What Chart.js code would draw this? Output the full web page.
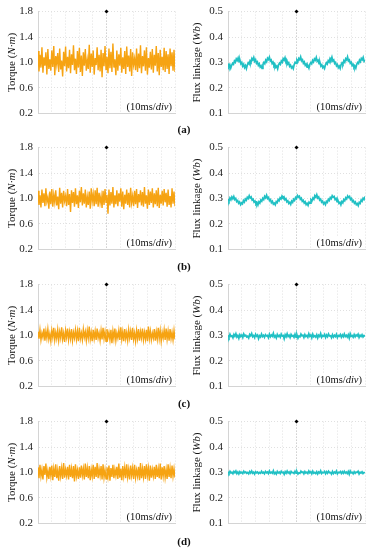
<!DOCTYPE html>
<html>
<head>
<meta charset="utf-8">
<script src="https://cdn.jsdelivr.net/npm/chart.js@4"></script>
<style>
  html, body { margin: 0; padding: 0; background: #fff; }
  body { width: 372px; height: 550px; position: relative; overflow: hidden; }
  canvas { position: absolute; }
  .lbl { position: absolute; width: 40px; text-align: center; font: bold 11px "Liberation Serif", serif; color: #111; }
</style>
</head>
<body>
<canvas id="tA" width="180" height="125" style="left:0px;top:0px"></canvas>
<canvas id="fA" width="187" height="125" style="left:185px;top:0px"></canvas>
<div class="lbl" style="left:164px;top:123px">(a)</div>
<canvas id="tB" width="180" height="125" style="left:0px;top:136px"></canvas>
<canvas id="fB" width="187" height="125" style="left:185px;top:136px"></canvas>
<div class="lbl" style="left:164px;top:260px">(b)</div>
<canvas id="tC" width="180" height="125" style="left:0px;top:273px"></canvas>
<canvas id="fC" width="187" height="125" style="left:185px;top:273px"></canvas>
<div class="lbl" style="left:164px;top:397px">(c)</div>
<canvas id="tD" width="180" height="125" style="left:0px;top:410px"></canvas>
<canvas id="fD" width="187" height="125" style="left:185px;top:410px"></canvas>
<div class="lbl" style="left:164px;top:535px">(d)</div>
<script>
// ---- data (time span: 10 divisions x 10 ms) ----
const panelLabels = ['(a)', '(b)', '(c)', '(d)'];
const timeSpanMs = 100;
const torqueTicks = ['0.2', '0.6', '1.0', '1.4', '1.8'];
const fluxTicks = ['0.1', '0.2', '0.3', '0.4', '0.5'];

const torqueA = [1.18,0.86,1.12,0.92,1.24,0.84,1.08,0.95,1.16,0.81,1.21,0.90,1.05,0.87,1.19,0.93,1.26,0.80,1.10,0.97,
1.15,0.85,1.22,0.89,1.03,0.78,1.17,0.94,1.25,0.86,1.09,0.91,1.20,0.83,1.13,0.96,1.27,0.88,1.06,0.82,
1.18,0.92,1.23,0.85,1.11,0.79,1.16,0.95,1.21,0.87,1.04,0.90,1.28,0.84,1.14,0.93,1.19,0.81,1.07,0.96,
1.24,0.88,1.12,0.86,1.20,0.77,1.15,0.94,1.26,0.89,1.09,0.83,1.22,0.91,1.17,0.85,1.30,0.92,1.05,0.80,
1.19,0.87,1.13,0.95,1.23,0.84,1.08,0.90,1.18,0.82,1.25,0.93,1.11,0.86,1.21,0.79,1.16,0.96,1.06,0.88,
1.22,0.85,1.14,0.91,1.27,0.83,1.10,0.94,1.19,0.87,1.24,0.81,1.07,0.92,1.17,0.89,1.21,0.84,1.12,0.95,
1.26,0.86,1.15,0.80,1.20,0.93,1.09,0.88,1.23,0.85,1.18,0.90,1.13,0.82,1.22,0.94,1.16,0.87,1.20,0.85];

const torqueB = [1.12,0.90,1.05,0.86,1.14,0.93,1.08,0.88,1.16,0.95,1.02,0.84,1.11,0.91,1.15,0.87,1.06,0.94,1.13,0.89,
1.03,0.83,1.17,0.92,1.09,0.86,1.12,0.96,1.04,0.88,1.15,0.90,1.07,0.79,1.13,0.93,1.10,0.87,1.16,0.91,
1.05,0.85,1.12,0.94,1.18,0.89,1.08,0.92,1.14,0.86,1.03,0.90,1.11,0.84,1.16,0.95,1.07,0.88,1.13,0.91,
1.17,0.87,1.09,0.93,1.04,0.85,1.12,0.90,1.15,0.94,1.06,0.76,1.14,0.89,1.10,0.92,1.18,0.86,1.05,0.91,
1.13,0.88,1.08,0.95,1.16,0.87,1.11,0.83,1.06,0.92,1.14,0.90,1.09,0.86,1.17,0.93,1.04,0.88,1.12,0.91,
1.15,0.85,1.07,0.94,1.13,0.89,1.10,0.87,1.18,0.92,1.05,0.84,1.14,0.90,1.11,0.93,1.16,0.86,1.08,0.91,
1.13,0.88,1.17,0.85,1.06,0.92,1.12,0.89,1.15,0.94,1.09,0.87,1.14,0.90,1.04,0.86,1.16,0.92,1.11,0.88];

const torqueC = [1.06,0.95,1.09,0.93,1.04,0.97,1.11,0.92,1.07,0.96,1.10,0.94,1.03,0.91,1.08,0.97,1.12,0.93,1.05,0.95,
1.09,0.92,1.06,0.96,1.13,0.94,1.04,0.90,1.08,0.97,1.11,0.93,1.06,0.95,1.10,0.92,1.05,0.96,1.09,0.94,
1.07,0.91,1.12,0.95,1.04,0.93,1.10,0.97,1.06,0.92,1.08,0.96,1.14,0.94,1.05,0.91,1.09,0.95,1.07,0.93,
1.11,0.96,1.04,0.92,1.08,0.94,1.12,0.95,1.06,0.91,1.10,0.97,1.05,0.93,1.09,0.88,1.07,0.95,1.11,0.92,
1.04,0.96,1.08,0.93,1.13,0.94,1.06,0.91,1.10,0.95,1.05,0.92,1.09,0.96,1.07,0.93,1.12,0.94,1.04,0.91,
1.08,0.95,1.10,0.92,1.06,0.96,1.11,0.93,1.05,0.94,1.09,0.91,1.14,0.95,1.07,0.93,1.04,0.96,1.10,0.92,
1.06,0.94,1.12,0.95,1.08,0.91,1.05,0.96,1.09,0.93,1.11,0.94,1.07,0.92,1.10,0.95,1.05,0.93,1.08,0.94];

const torqueD = [1.08,0.91,1.12,0.94,1.05,0.89,1.10,0.96,1.14,0.92,1.03,0.90,1.09,0.95,1.11,0.88,1.06,0.93,1.13,0.91,
1.04,0.87,1.10,0.94,1.07,0.90,1.15,0.92,1.05,0.95,1.09,0.89,1.12,0.93,1.06,0.91,1.10,0.86,1.13,0.94,
1.04,0.90,1.08,0.92,1.11,0.95,1.06,0.89,1.14,0.93,1.07,0.91,1.10,0.88,1.05,0.94,1.12,0.90,1.09,0.93,
1.15,0.91,1.06,0.95,1.10,0.89,1.13,0.92,1.04,0.90,1.08,0.94,1.11,0.87,1.07,0.93,1.12,0.91,1.05,0.95,
1.09,0.90,1.14,0.92,1.06,0.88,1.10,0.94,1.08,0.91,1.13,0.93,1.05,0.89,1.11,0.95,1.07,0.90,1.12,0.92,
1.04,0.94,1.09,0.88,1.15,0.91,1.06,0.93,1.10,0.90,1.13,0.95,1.07,0.87,1.11,0.92,1.05,0.94,1.09,0.90,
1.12,0.93,1.06,0.91,1.14,0.89,1.08,0.94,1.10,0.92,1.05,0.90,1.13,0.93,1.07,0.91,1.11,0.94,1.06,0.92];

const fluxA = [0.296,0.284,0.291,0.278,0.289,0.297,0.293,0.306,0.301,0.314,0.308,
0.318,0.303,0.309,0.295,0.300,0.286,0.293,0.280,0.288,0.276,0.290,
0.299,0.294,0.307,0.302,0.316,0.310,0.320,0.305,0.311,0.297,0.302,
0.289,0.295,0.282,0.287,0.277,0.292,0.300,0.295,0.309,0.303,0.317,
0.312,0.321,0.306,0.310,0.296,0.301,0.288,0.293,0.281,0.286,0.275,
0.291,0.298,0.293,0.306,0.301,0.315,0.309,0.319,0.304,0.308,0.294,
0.299,0.285,0.290,0.279,0.284,0.276,0.292,0.301,0.296,0.310,0.304,
0.316,0.311,0.322,0.307,0.311,0.297,0.302,0.289,0.294,0.282,0.287,
0.278,0.293,0.300,0.295,0.308,0.302,0.314,0.309,0.320,0.305,0.309,
0.295,0.300,0.286,0.291,0.280,0.285,0.277,0.291,0.299,0.294,0.307,
0.302,0.316,0.310,0.321,0.306,0.310,0.296,0.300,0.287,0.292,0.280,
0.286,0.277,0.292,0.299,0.294,0.307,0.301,0.315,0.310,0.322,0.306,
0.310,0.297,0.301,0.288,0.293,0.281,0.286,0.278,0.293,0.300,0.296,
0.309,0.303,0.316,0.311,0.320,0.305,0.310];

const fluxB = [0.298,0.290,0.302,0.295,0.306,0.299,0.308,0.296,0.300,0.288,0.292,0.281,0.286,
0.276,0.283,0.279,0.292,0.286,0.298,0.293,0.305,0.300,0.311,0.302,0.306,0.294,
0.297,0.286,0.290,0.279,0.284,0.274,0.287,0.282,0.294,0.289,0.301,0.296,0.309,
0.303,0.313,0.300,0.304,0.292,0.296,0.284,0.289,0.278,0.282,0.275,0.288,0.284,
0.296,0.291,0.303,0.298,0.310,0.304,0.307,0.295,0.299,0.287,0.291,0.280,0.285,
0.277,0.290,0.285,0.297,0.292,0.304,0.299,0.312,0.306,0.309,0.297,0.301,0.289,
0.293,0.282,0.287,0.276,0.281,0.273,0.286,0.282,0.295,0.290,0.302,0.297,0.311,
0.305,0.315,0.302,0.306,0.294,0.298,0.286,0.290,0.279,0.284,0.276,0.289,0.285,
0.297,0.292,0.304,0.299,0.311,0.305,0.308,0.296,0.300,0.288,0.292,0.281,0.285,
0.275,0.288,0.283,0.296,0.291,0.303,0.298,0.310,0.304,0.308,0.296,0.300,0.288,
0.292,0.281,0.286,0.276,0.280,0.272,0.285,0.281,0.294,0.289,0.301,0.296,0.308];

const fluxC = [0.301,0.293,0.305,0.296,0.299,0.291,0.304,0.297,0.307,0.294,0.300,0.289,0.303,0.296,0.302,0.292,0.306,0.298,0.301,0.294,
0.297,0.290,0.304,0.299,0.308,0.295,0.300,0.292,0.305,0.297,0.302,0.288,0.299,0.294,0.306,0.296,0.301,0.293,0.303,0.298,
0.300,0.291,0.305,0.295,0.302,0.297,0.309,0.294,0.299,0.290,0.304,0.296,0.301,0.293,0.306,0.298,0.300,0.287,0.303,0.295,
0.307,0.296,0.301,0.292,0.304,0.297,0.300,0.293,0.305,0.294,0.302,0.289,0.298,0.295,0.306,0.299,0.301,0.292,0.304,0.296,
0.300,0.293,0.307,0.297,0.302,0.291,0.305,0.295,0.299,0.294,0.303,0.290,0.301,0.296,0.308,0.293,0.300,0.297,0.304,0.292,
0.302,0.295,0.306,0.298,0.299,0.291,0.303,0.294,0.301,0.296,0.305,0.292,0.300,0.297,0.304,0.293,0.302,0.295,0.306,0.296,
0.301,0.294,0.303,0.290,0.307,0.297,0.300,0.293,0.304,0.295,0.302,0.298,0.305,0.292,0.301,0.296,0.303,0.294,0.300,0.297];

const fluxD = [0.303,0.297,0.305,0.298,0.301,0.295,0.304,0.299,0.306,0.296,0.302,0.294,0.303,0.298,0.301,0.296,0.305,0.299,0.302,0.297,
0.300,0.295,0.304,0.298,0.306,0.297,0.301,0.294,0.303,0.299,0.302,0.296,0.300,0.297,0.305,0.298,0.301,0.295,0.304,0.299,
0.302,0.296,0.306,0.298,0.301,0.297,0.307,0.295,0.300,0.294,0.304,0.298,0.302,0.296,0.305,0.299,0.301,0.293,0.303,0.297,
0.306,0.298,0.302,0.295,0.304,0.299,0.300,0.296,0.305,0.297,0.303,0.294,0.299,0.297,0.305,0.300,0.302,0.295,0.304,0.298,
0.301,0.296,0.306,0.299,0.303,0.295,0.305,0.297,0.300,0.296,0.303,0.294,0.302,0.298,0.307,0.296,0.301,0.299,0.304,0.295,
0.303,0.297,0.305,0.299,0.300,0.294,0.304,0.296,0.302,0.298,0.306,0.295,0.301,0.299,0.304,0.296,0.303,0.297,0.305,0.298,
0.302,0.296,0.304,0.293,0.306,0.299,0.301,0.295,0.303,0.297,0.302,0.300,0.305,0.294,0.301,0.298,0.303,0.296,0.300,0.299];

// ---- rendering ----
const SERIF = '"Liberation Serif", "Times New Roman", serif';

function measureParts(ctx, parts, size) {
  let total = 0;
  const widths = parts.map(p => {
    ctx.font = (p[1] ? 'italic ' : '') + size + 'px ' + SERIF;
    const w = ctx.measureText(p[0]).width; total += w; return w;
  });
  return { total, widths };
}

const annotPlugin = {
  id: 'annot',
  afterDraw(chart, args, opts) {
    const ctx = chart.ctx, a = chart.chartArea;
    ctx.save();
    ctx.fillStyle = '#111';
    ctx.textBaseline = 'middle';
    const t = measureParts(ctx, opts.title, 11);
    ctx.translate(opts.titleX, (a.top + a.bottom) / 2);
    ctx.rotate(-Math.PI / 2);
    let x = -t.total / 2;
    opts.title.forEach((p, i) => {
      ctx.font = (p[1] ? 'italic ' : '') + '11px ' + SERIF;
      ctx.fillText(p[0], x, 0);
      x += t.widths[i];
    });
    ctx.restore();
    ctx.save();
    ctx.textBaseline = 'alphabetic';
    const d = measureParts(ctx, opts.note, 10.5);
    const right = a.right - 3, base = a.bottom - 3;
    ctx.fillStyle = '#fff';
    ctx.fillRect(right - d.total - 2, base - 10, d.total + 3, 12);
    ctx.fillStyle = '#111';
    x = right - d.total;
    opts.note.forEach((p, i) => {
      ctx.font = (p[1] ? 'italic ' : '') + '10.5px ' + SERIF;
      ctx.fillText(p[0], x, base);
      x += d.widths[i];
    });
    ctx.restore();
  }
};

function makePanel(id, values, cfg) {
  const n = values.length;
  const pts = values.map((v, i) => ({ x: i * timeSpanMs / (n - 1), y: v }));
  new Chart(document.getElementById(id), {
    type: 'line',
    data: {
      datasets: [
        { data: pts, borderColor: cfg.color, borderWidth: cfg.lw, pointRadius: 0, tension: 0, fill: false },
        { type: 'scatter', data: [{ x: timeSpanMs / 2, y: cfg.max }], pointStyle: 'rectRot', pointRadius: 2,
          backgroundColor: '#000', borderColor: '#000', borderWidth: 0, clip: false }
      ]
    },
    options: {
      responsive: false, animation: false, devicePixelRatio: 1,
      layout: { padding: { top: 10, bottom: 8, left: 0, right: cfg.padRight } },
      plugins: {
        legend: { display: false }, tooltip: { enabled: false },
        annot: { title: cfg.title, titleX: 11.7, note: [['(10ms/', false], ['div', true], [')', false]] }
      },
      scales: {
        x: {
          type: 'linear', min: 0, max: timeSpanMs,
          ticks: { display: false, stepSize: timeSpanMs / 10 },
          grid: { drawTicks: false, lineWidth: 1,
                  color: c => (c.tick && c.tick.value === timeSpanMs / 2) ? '#b4b4b4' : '#e0e0e0' },
          border: { color: '#d4d4d4', dash: [1, 2] },
          afterFit: s => { s.height = 0; }
        },
        y: {
          min: cfg.min, max: cfg.max,
          ticks: { stepSize: cfg.step, padding: 5, color: '#222',
                   font: { family: SERIF, size: 11 },
                   callback: (v, i) => (i % 2 === 0 ? cfg.ticks[i / 2] : '') },
          grid: { drawTicks: false, color: '#e0e0e0' },
          border: { color: '#d4d4d4', dash: [1, 2] },
          afterFit: s => { s.width = cfg.axisW; }
        }
      }
    },
    plugins: [annotPlugin]
  });
}

const torqueCfg = { color: 'rgb(246,163,18)', lw: 1.4, min: 0.2, max: 1.8, step: 0.2, ticks: torqueTicks,
  title: [['Torque (', false], ['N·m', true], [')', false]], axisW: 38, padRight: 5 };
const fluxCfg = { color: 'rgb(32,192,196)', lw: 1.7, min: 0.1, max: 0.5, step: 0.05, ticks: fluxTicks,
  title: [['Flux linkage (', false], ['Wb', true], [')', false]], axisW: 43, padRight: 7 };

makePanel('tA', torqueA, torqueCfg);
makePanel('fA', fluxA, fluxCfg);
makePanel('tB', torqueB, torqueCfg);
makePanel('fB', fluxB, fluxCfg);
makePanel('tC', torqueC, torqueCfg);
makePanel('fC', fluxC, fluxCfg);
makePanel('tD', torqueD, torqueCfg);
makePanel('fD', fluxD, fluxCfg);
</script>
</body>
</html>
